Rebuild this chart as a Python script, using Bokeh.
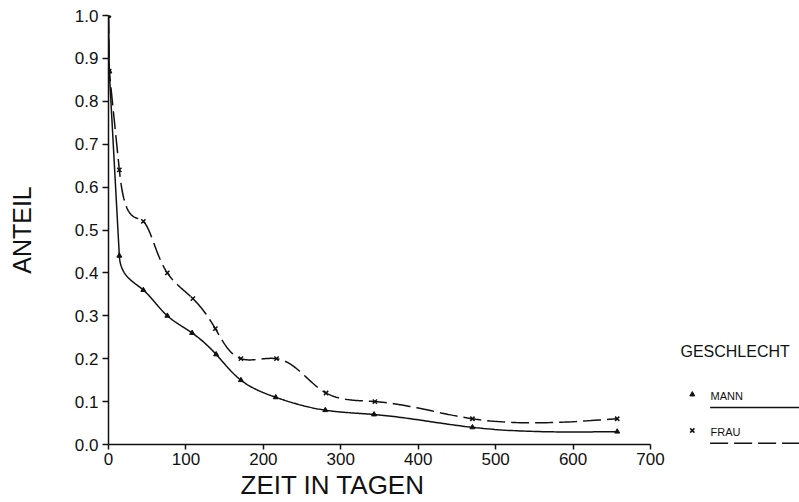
import numpy as np
from bokeh.plotting import figure
from bokeh.models import Range1d, FixedTicker, CustomJSTickFormatter, Label, Title
from bokeh.embed import file_html
from bokeh.resources import INLINE

# ---- data ----
days_mann = [0, 1, 14, 45, 76, 108, 139, 171, 216, 280, 343, 470, 657]
anteil_mann = [1.0, 0.87, 0.44, 0.36, 0.30, 0.26, 0.21, 0.15, 0.11, 0.08, 0.07, 0.04, 0.03]
days_frau = [0, 1, 14, 45, 76, 109, 138, 171, 217, 281, 344, 470, 657]
anteil_frau = [1.0, 0.87, 0.64, 0.52, 0.40, 0.34, 0.27, 0.20, 0.20, 0.12, 0.10, 0.06, 0.06]

x_ticks = [0, 100, 200, 300, 400, 500, 600, 700]
y_ticks = [0.0, 0.1, 0.2, 0.3, 0.4, 0.5, 0.6, 0.7, 0.8, 0.9, 1.0]

legend_title = "GESCHLECHT"
legend_labels = ["MANN", "FRAU"]
x_title = "ZEIT IN TAGEN"
y_title = "ANTEIL"

FONT = "Liberation Sans"
INK = "#111111"

W, H = 799, 502
BORDER_L, BORDER_T, BORDER_B = 108, 15, 58
PX_PER_DAY = 542.0 / 700.0
X_END = (W - BORDER_L) / PX_PER_DAY
PX_PER_UNIT = H - BORDER_T - BORDER_B


def _spline(t, v, d0):
    """Cubic spline: clamped first derivative d0 at start, natural at end."""
    n = len(t)
    h = np.diff(t)
    A = np.zeros((n, n))
    b = np.zeros(n)
    A[0, 0] = 2 * h[0]
    A[0, 1] = h[0]
    b[0] = 6 * ((v[1] - v[0]) / h[0] - d0)
    A[-1, -1] = 1.0
    for i in range(1, n - 1):
        A[i, i - 1] = h[i - 1]
        A[i, i] = 2 * (h[i - 1] + h[i])
        A[i, i + 1] = h[i]
        b[i] = 6 * ((v[i + 1] - v[i]) / h[i] - (v[i] - v[i - 1]) / h[i - 1])
    M = np.linalg.solve(A, b)

    def ev(i, s):
        a = t[i + 1] - s
        c = s - t[i]
        return ((M[i] * a ** 3 + M[i + 1] * c ** 3) / (6 * h[i])
                + (v[i] / h[i] - M[i] * h[i] / 6) * a
                + (v[i + 1] / h[i] - M[i + 1] * h[i] / 6) * c)
    return ev


def smooth_path(x, y, k, start=2, per_seg=40):
    """Drawing path: straight initial drop, then a screen-space parametric spline
    whose start tangent continues the initial drop (k = tangent strength)."""
    px = np.asarray(x, float) * PX_PER_DAY
    py = np.asarray(y, float) * PX_PER_UNIT
    xs = list(px[:start])
    ys = list(py[:start])
    qx, qy = px[start:], py[start:]
    d = np.hypot(np.diff(qx), np.diff(qy))
    t = np.concatenate([[0.0], np.cumsum(d)])
    dx, dy = px[start] - px[start - 1], py[start] - py[start - 1]
    ln = np.hypot(dx, dy)
    fx = _spline(t, qx, k * dx / ln)
    fy = _spline(t, qy, k * dy / ln)
    for i in range(len(t) - 1):
        s = np.linspace(t[i], t[i + 1], per_seg, endpoint=(i == len(t) - 2))
        xs.extend(fx(i, s))
        ys.extend(fy(i, s))
    return np.array(xs) / PX_PER_DAY, np.array(ys) / PX_PER_UNIT


p = figure(width=W, height=H, output_backend="svg", toolbar_location=None,
           x_range=Range1d(0, X_END), y_range=Range1d(0, 1.0),
           min_border_left=BORDER_L, min_border_right=0, min_border_top=BORDER_T,
           min_border_bottom=BORDER_B)
p.outline_line_color = None
p.grid.visible = False
p.background_fill_color = "white"

for ax in (p.xaxis[0], p.yaxis[0]):
    ax.axis_line_color = INK
    ax.axis_line_width = 1.5
    ax.major_tick_line_color = INK
    ax.major_tick_line_width = 1.5
    ax.major_tick_in = 0
    ax.minor_tick_line_color = None
    ax.major_label_text_font = FONT
    ax.major_label_text_font_size = "17px"
    ax.major_label_text_color = INK

p.xaxis.bounds = (0, 700)
p.xaxis.ticker = FixedTicker(ticks=x_ticks)
p.xaxis.major_tick_out = 5
p.xaxis.major_label_standoff = 3

p.yaxis.ticker = FixedTicker(ticks=y_ticks)
p.yaxis.formatter = CustomJSTickFormatter(code="return tick.toFixed(1);")
p.yaxis.major_tick_out = 6
p.yaxis.major_label_standoff = 4
p.yaxis.axis_label = y_title
p.yaxis.axis_label_text_font = FONT
p.yaxis.axis_label_text_font_size = "25px"
p.yaxis.axis_label_text_font_style = "normal"
p.yaxis.axis_label_text_color = INK
p.yaxis.axis_label_standoff = 36

# x axis title (left-aligned so it sits where the original has it)
p.add_layout(Title(text=x_title, align="left", offset=132, standoff=0,
                   text_font=FONT, text_font_size="26px", text_font_style="normal",
                   text_color=INK), "below")

# series
mx, my = smooth_path(days_mann, anteil_mann, k=1.5)
fx, fy = smooth_path(days_frau, anteil_frau, k=3.0)
p.line(mx, my, line_color=INK, line_width=1.5)
p.line(fx, fy, line_color=INK, line_width=1.5, line_dash="18 6")
p.scatter(days_mann, anteil_mann, marker="triangle", size=5,
          fill_color=INK, line_color=INK)
p.scatter(days_frau, anteil_frau, marker="x", size=6,
          line_color=INK, line_width=1.5)

# legend, to the right of the axis
p.add_layout(Label(x=738.7, y=0.217, text=legend_title, text_font=FONT,
                   text_font_size="16px", text_color=INK, text_baseline="middle"))
p.scatter([754], [0.1166], marker="triangle", size=5, fill_color=INK, line_color=INK)
p.scatter([754], [0.0326], marker="x", size=6, line_color=INK, line_width=1.5)
p.add_layout(Label(x=777.5, y=0.112, text=legend_labels[0], text_font=FONT,
                   text_font_size="11px", text_color=INK, text_baseline="middle"))
p.add_layout(Label(x=777.5, y=0.030, text=legend_labels[1], text_font=FONT,
                   text_font_size="11px", text_color=INK, text_baseline="middle"))
p.line([777, X_END], [0.086, 0.086], line_color=INK, line_width=1.5)
p.line([777, X_END], [0.003, 0.003], line_color=INK, line_width=1.5, line_dash="18 6")

open("out.html", "w").write(file_html(p, INLINE))
